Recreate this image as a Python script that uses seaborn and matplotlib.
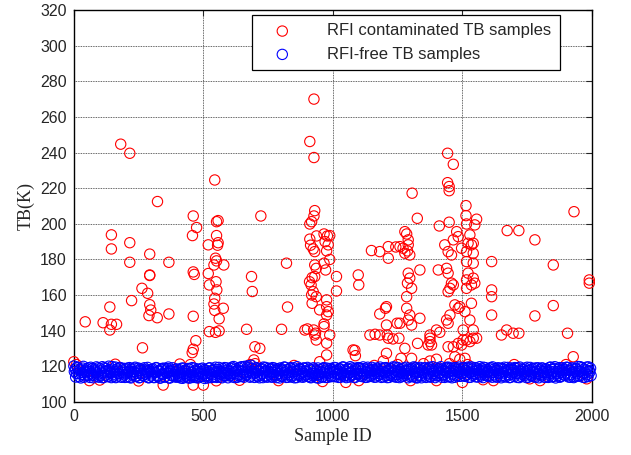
import numpy as np
import pandas as pd
import seaborn as sns
import matplotlib
matplotlib.use("Agg")
import matplotlib.pyplot as plt

# RFI contaminated samples away from the clean band (sample id, TB in K)
red_ids = [
    44, 113, 145, 165, 139, 145, 145, 181, 216, 216, 216, 223, 139, 263, 265, 290, 285, 293, 293, 293,
    293, 297, 322, 323, 367, 367, 461, 474, 458, 461, 465, 461, 471, 461, 457,
    519, 555, 557, 551, 551, 557, 544, 547, 551, 541, 579, 519, 523, 549, 552, 544, 541, 577, 544, 561,
    523, 547, 561,
    667, 686, 689, 699, 718, 695, 722, 821, 825, 802, 892,
    927, 911, 927, 930, 927, 918, 911, 911, 937, 966, 979, 988, 914, 970, 924, 930, 976, 982, 930, 936,
    972, 966, 920, 930, 910, 916, 924, 918, 936, 920, 976, 976, 982, 976, 949, 966, 966, 902, 926, 933,
    930, 936, 988, 976, 976, 949, 988,
    1014, 1014, 1078, 1085, 1087, 1098, 1100, 1149, 1181, 1214, 1214, 1207, 1203, 1181, 1248, 1207, 1163, 1210, 1232, 1207,
    1195, 1143, 1181, 1214, 1243, 1259, 1278,
    1278, 1285, 1291, 1288, 1297, 1271, 1291, 1306, 1326, 1336, 1291, 1297, 1288, 1304, 1285, 1285, 1297, 1291, 1304, 1336,
    1259, 1255, 1278, 1327, 1263, 1304,
    1375, 1375, 1375, 1368, 1381, 1375, 1400, 1413, 1407, 1439, 1445, 1411, 1443, 1443, 1449, 1449, 1449, 1439, 1452, 1445,
    1445, 1400,
    1465, 1514, 1514, 1555, 1516, 1548, 1478, 1484, 1465, 1529, 1522, 1542, 1445, 1458, 1432, 1497, 1516, 1542, 1535, 1516,
    1542, 1516, 1542, 1535, 1516, 1548, 1522, 1458, 1452, 1445, 1465, 1471, 1490, 1484, 1535, 1510, 1529, 1542, 1503, 1542,
    1529, 1555, 1516, 1465, 1484, 1497, 1503, 1471, 1510, 1490,
    1613, 1613, 1613, 1613, 1651, 1671, 1696, 1718, 1673, 1718, 1780, 1780, 1851, 1851, 1906, 1928, 1931, 1990, 1990,
]
red_tb = [
    145.0, 144.5, 143.6, 143.6, 153.3, 185.9, 193.8, 244.7, 239.6, 189.4, 178.4, 156.9, 140.4, 163.8, 130.4, 148.5, 161.0, 171.0, 171.3, 183.0,
    154.6, 151.6, 147.3, 212.5, 178.4, 149.4, 204.4, 197.9, 193.4, 173.0, 171.6, 148.1, 134.4, 129.6, 127.7,
    188.2, 188.0, 189.4, 193.4, 201.2, 201.8, 224.6, 180.7, 179.2, 176.9, 176.9, 172.1, 165.7, 167.5, 162.9, 158.2, 155.0, 152.6, 151.4, 146.7,
    139.5, 139.1, 139.9,
    140.8, 170.4, 162.0, 131.0, 130.1, 123.6, 204.4, 177.9, 153.3, 140.8, 140.4,
    270.0, 246.2, 237.2, 207.4, 204.4, 201.2, 199.9, 191.4, 193.2, 194.3, 193.2, 193.4, 188.0, 190.0, 185.9, 184.4, 184.8, 188.2, 176.9, 175.0,
    174.1, 177.9, 169.8, 170.4, 167.5, 165.7, 161.9, 160.1, 159.1, 155.4, 157.3, 153.5, 150.7, 148.8, 151.7, 143.8, 142.3, 141.0, 140.4, 138.6,
    137.6, 134.8, 137.6, 133.0, 126.4, 122.6, 180.0,
    170.4, 162.3, 129.2, 129.0, 126.0, 171.3, 165.7, 185.0, 184.4, 187.2, 180.7, 153.5, 152.6, 149.4, 144.2, 143.2, 138.0, 137.6, 135.4, 127.3,
    123.0, 137.6, 137.6, 135.8, 187.0, 187.2, 183.5,
    195.6, 194.3, 191.0, 184.8, 182.5, 186.3, 188.2, 217.2, 203.1, 174.1, 172.3, 169.5, 166.7, 163.8, 159.1, 152.6, 148.8, 146.0, 143.2, 147.0,
    144.2, 135.8, 130.1, 132.9, 124.5, 124.5,
    137.6, 135.8, 133.9, 132.0, 132.0, 123.0, 140.4, 139.1, 174.1, 175.0, 172.3, 198.8, 239.6, 223.1, 220.9, 218.6, 200.9, 146.0, 148.8, 144.2,
    131.0, 124.0,
    233.4, 210.2, 204.6, 202.6, 199.9, 199.4, 195.6, 192.8, 191.0, 193.8, 189.1, 189.1, 184.4, 182.5, 188.2, 186.3, 184.4, 183.5, 188.2, 178.8,
    177.9, 168.5, 169.5, 165.7, 163.8, 166.7, 172.3, 166.7, 163.8, 161.9, 165.7, 154.5, 153.5, 152.6, 155.4, 150.7, 146.0, 140.4, 140.4, 135.8,
    133.9, 135.8, 134.8, 131.0, 132.9, 132.0, 134.8, 125.4, 124.5, 124.0,
    178.8, 162.9, 159.1, 148.8, 137.6, 140.4, 138.6, 138.6, 196.2, 196.2, 191.0, 148.3, 176.9, 154.1, 138.6, 125.4, 206.8, 168.5, 166.7,
]

# RFI contaminated samples lying inside the clean band
red_band_ids = [0, 10, 60, 100, 160, 250, 345, 409, 450, 461, 500, 550, 640, 680, 700, 790, 850, 960, 1050, 1100,
                1160, 1250, 1300, 1350, 1400, 1450, 1500, 1520, 1580, 1620, 1700, 1760, 1800, 1900, 1980]
red_band_tb = [122.6, 121.0, 112.0, 112.3, 121.2, 111.8, 109.5, 121.3, 121.0, 109.5, 109.5, 111.9, 112.2, 121.0, 121.5,
               112.0, 120.5, 111.5, 111.0, 112.0, 120.5, 121.0, 112.0, 121.5, 112.0, 121.5, 111.0, 121.0, 112.5, 112.0,
               121.0, 113.0, 112.0, 121.0, 113.0]

# RFI-free samples, first pass (ids 0, 5, 10, ...)
blue_ids_a = np.arange(0, 2000, 5)
blue_tb_a = [
    120.2, 118.5, 116.0, 119.4, 114.2, 117.8, 115.5, 119.0, 113.9, 116.8, 118.6, 114.8, 117.2, 119.5, 115.1, 113.6, 118.1, 116.4, 114.5, 119.2,
    117.5, 115.0, 119.8, 113.8, 116.9, 118.9, 114.4, 120.1, 116.2, 113.7, 118.4, 115.6, 119.6, 114.1, 117.4, 116.0, 119.1, 113.9, 117.9, 115.3,
    118.7, 114.0, 116.6, 119.3, 113.5, 117.1, 115.4, 118.9, 114.6, 116.1, 119.0, 113.8, 117.6, 115.0, 118.3, 114.3, 116.8, 119.4, 113.6, 117.0,
    115.2, 118.5, 113.7, 116.5, 119.1, 114.3, 117.3, 113.5, 118.8, 115.8, 114.0, 117.9, 116.2, 119.6, 113.4, 116.9, 114.7, 118.2, 115.4, 113.9,
    117.6, 114.2, 116.3, 118.9, 113.3, 115.9, 117.8, 114.5, 113.6, 118.4, 115.1, 116.7, 113.8, 119.0, 114.9, 117.2, 113.5, 116.0, 118.6, 114.4,
    115.6, 113.2, 117.9, 114.6, 116.8, 119.2, 113.7, 115.3, 118.3, 114.1, 117.0, 116.1, 119.4, 113.9, 115.7, 118.7, 114.8, 116.5, 119.1, 113.6,
    117.4, 115.2, 119.5, 114.0, 116.7, 118.6, 113.8, 117.9, 115.5, 119.7, 114.4, 116.2, 120.0, 114.9, 117.3, 119.2, 113.9, 120.6, 115.8, 118.1,
    116.3, 119.3, 114.2, 117.6, 115.0, 118.8, 113.7, 116.9, 119.4, 114.6, 117.1, 115.4, 118.5, 113.9, 116.6, 119.0, 114.8, 117.8, 115.9, 113.5,
    118.2, 114.7, 116.4, 119.5, 113.8, 117.3, 115.2, 118.9, 114.0, 116.8, 119.1, 115.6, 113.7, 117.7, 114.9, 118.4, 116.1, 113.9, 119.0, 115.3,
    117.0, 114.3, 118.6, 113.6, 116.2, 119.2, 114.8, 117.5, 115.1, 113.4, 118.1, 116.6, 114.1, 119.3, 115.7, 117.9, 113.8, 116.4, 118.8, 114.5,
    116.9, 119.4, 114.2, 117.8, 115.5, 118.5, 113.9, 116.3, 119.7, 114.7, 117.2, 115.0, 118.9, 114.0, 116.7, 119.1, 115.4, 113.7, 118.0, 116.1,
    119.2, 114.6, 117.4, 115.8, 118.7, 113.8, 116.5, 119.5, 114.3, 117.7, 115.2, 118.3, 113.9, 116.9, 119.0, 114.8, 117.1, 115.6, 118.6, 114.1,
    116.4, 119.3, 113.7, 117.9, 115.1, 118.8, 114.5, 116.8, 119.6, 113.9, 117.3, 115.7, 118.2, 114.2, 116.0, 119.1, 114.9, 117.6, 113.6, 118.5,
    115.3, 118.9, 114.1, 117.0, 119.4, 113.5, 116.6, 118.4, 114.7, 117.8, 115.9, 119.2, 113.8, 116.2, 118.7, 114.4, 117.4, 119.8, 115.0, 113.7,
    117.7, 114.9, 119.0, 116.3, 113.9, 118.5, 115.4, 117.1, 119.5, 114.2, 116.8, 118.9, 113.6, 117.5, 115.2, 119.3, 114.6, 116.9, 118.2, 115.8,
    116.1, 119.4, 114.4, 117.6, 118.9, 113.8, 116.7, 119.7, 114.9, 117.3, 115.6, 119.1, 114.0, 117.9, 115.3, 118.6, 113.7, 116.4, 119.2, 114.8,
    117.2, 115.0, 119.3, 113.9, 116.8, 118.7, 114.5, 117.7, 115.8, 119.0, 113.6, 116.2, 118.4, 114.7, 117.5, 119.4, 115.3, 113.8, 118.1, 116.6,
    114.3, 118.8, 116.0, 119.2, 113.7, 117.4, 115.5, 118.3, 114.8, 116.9, 119.5, 113.9, 117.8, 115.1, 118.6, 114.2, 116.5, 119.1, 115.7, 113.6,
    117.9, 114.6, 119.0, 116.3, 113.8, 118.4, 115.2, 117.6, 119.6, 114.1, 116.8, 118.9, 113.5, 117.1, 115.9, 119.3, 114.4, 116.6, 118.2, 114.9,
    116.2, 119.4, 114.0, 117.8, 115.4, 119.1, 113.7, 116.9, 118.7, 114.5, 117.3, 119.8, 115.1, 113.9, 118.5, 116.4, 119.6, 114.3, 117.6, 118.9,
]

# RFI-free samples, second pass (ids 2, 7, 12, ...)
blue_ids_b = np.arange(2, 2000, 5)
blue_tb_b = [
    117.1, 114.0, 119.6, 115.9, 118.3, 113.5, 116.6, 120.0, 114.7, 117.7, 115.3, 119.1, 113.8, 116.2, 118.8, 114.9, 117.4, 119.7, 115.6, 113.9,
    118.6, 116.3, 113.6, 119.2, 115.1, 117.6, 114.2, 118.1, 116.7, 119.9, 114.5, 117.0, 113.7, 118.5, 115.8, 119.4, 114.0, 116.5, 118.9, 113.8,
    115.7, 119.0, 117.3, 113.9, 118.4, 115.0, 116.9, 119.5, 114.4, 117.5, 113.6, 118.6, 116.0, 114.8, 119.2, 115.5, 117.9, 113.7, 118.1, 116.3,
    118.0, 113.8, 116.7, 119.3, 114.6, 117.4, 113.4, 118.3, 115.6, 119.0, 114.1, 116.3, 118.7, 113.6, 117.5, 115.0, 119.2, 114.3, 116.8, 118.5,
    114.8, 118.2, 113.5, 116.9, 119.1, 114.0, 117.3, 115.2, 118.8, 113.4, 116.5, 119.3, 114.6, 117.7, 113.7, 118.5, 115.8, 114.2, 117.0, 119.0,
    118.1, 114.5, 116.2, 113.5, 119.0, 115.7, 117.6, 114.0, 116.9, 119.5, 113.8, 118.2, 115.3, 117.1, 113.6, 116.4, 119.3, 114.7, 117.9, 115.9,
    114.6, 118.8, 116.1, 119.9, 113.7, 117.5, 115.0, 119.1, 114.3, 117.2, 119.8, 113.9, 118.0, 115.6, 120.3, 116.6, 114.5, 118.9, 117.0, 113.8,
    119.0, 114.8, 117.3, 113.6, 118.4, 116.0, 119.6, 114.5, 117.7, 113.9, 118.9, 116.4, 114.2, 119.3, 115.4, 117.9, 113.7, 118.6, 116.2, 119.1,
    114.4, 117.8, 119.6, 115.2, 118.1, 113.9, 116.6, 119.3, 114.7, 118.0, 113.6, 117.4, 119.8, 115.5, 118.7, 114.1, 116.9, 119.1, 114.6, 117.5,
    119.4, 115.6, 113.9, 117.9, 114.7, 118.5, 116.0, 113.6, 119.1, 115.3, 117.2, 114.0, 118.8, 116.4, 113.8, 119.0, 115.9, 117.7, 114.2, 118.3,
    114.3, 117.5, 119.2, 116.0, 113.8, 118.7, 115.3, 119.5, 114.5, 117.9, 113.7, 118.4, 116.3, 119.8, 114.9, 117.1, 113.9, 118.9, 115.6, 119.3,
    116.0, 118.9, 114.3, 119.7, 115.5, 117.3, 113.9, 118.5, 116.8, 114.4, 119.4, 115.9, 117.8, 114.0, 118.3, 116.1, 119.6, 113.8, 117.2, 119.0,
    119.1, 114.8, 117.2, 113.8, 118.6, 116.3, 119.7, 114.2, 117.8, 115.4, 119.3, 113.7, 116.9, 118.7, 114.6, 117.4, 119.5, 115.8, 118.1, 114.3,
    118.2, 114.5, 119.7, 116.1, 113.8, 118.8, 115.2, 119.4, 113.6, 116.8, 119.0, 114.6, 117.9, 115.7, 119.5, 113.9, 118.3, 115.9, 117.2, 119.1,
    114.6, 118.4, 116.2, 119.8, 115.0, 117.6, 113.8, 118.9, 116.4, 119.5, 114.1, 117.9, 115.7, 119.2, 113.9, 118.1, 116.6, 119.6, 114.4, 117.3,
    119.0, 114.7, 117.9, 115.2, 119.6, 116.4, 113.9, 118.5, 115.8, 119.3, 114.1, 118.0, 116.2, 119.8, 114.5, 117.4, 119.5, 115.1, 118.2, 116.9,
    114.2, 118.6, 116.5, 119.7, 115.3, 117.8, 113.9, 119.2, 116.1, 114.5, 118.8, 117.0, 119.5, 114.0, 116.7, 118.3, 113.7, 119.1, 115.6, 118.0,
    119.3, 115.9, 113.8, 117.5, 119.6, 114.4, 118.1, 116.2, 119.0, 113.7, 117.8, 115.4, 119.4, 114.6, 116.8, 118.9, 113.9, 117.3, 119.2, 116.0,
    115.4, 119.1, 117.2, 114.0, 118.7, 116.5, 113.8, 119.4, 115.7, 118.2, 114.3, 119.8, 116.1, 114.7, 118.5, 113.9, 117.6, 119.2, 115.3, 117.9,
    119.5, 115.1, 117.7, 113.9, 119.0, 116.6, 114.3, 118.6, 115.9, 119.9, 114.6, 117.2, 119.3, 116.1, 113.8, 118.0, 115.4, 119.7, 116.8, 114.8,
]

sns.set_style("white")
plt.rcParams['font.family'] = ['Liberation Sans', 'DejaVu Sans']

fig, ax = plt.subplots(figsize=(6.31, 4.55), dpi=100)
fig.subplots_adjust(left=0.117, right=0.938, bottom=0.1165, top=0.978)

msize = 55
red_df = pd.DataFrame({'id': red_ids + red_band_ids, 'tb': red_tb + red_band_tb})
blue_df = pd.DataFrame({'id': np.concatenate([blue_ids_a, blue_ids_b]), 'tb': blue_tb_a + blue_tb_b})
blue_df = blue_df.sort_values('id')

sns.scatterplot(data=red_df, x='id', y='tb', ax=ax, marker='o', s=msize, color='red',
                facecolor='none', edgecolor='#ff0000', linewidth=0.8, clip_on=False, zorder=3,
                label='RFI contaminated TB samples')
sns.scatterplot(data=blue_df, x='id', y='tb', ax=ax, marker='o', s=msize, color='blue',
                facecolor='none', edgecolor='#0000ff', linewidth=0.8, clip_on=False, zorder=4,
                label='RFI-free TB samples')

ax.set_xlim(0, 2000)
ax.set_ylim(100, 320)
ax.set_xticks([0, 500, 1000, 1500, 2000])
ax.set_yticks(np.arange(100, 321, 20))
ax.tick_params(direction='in', top=True, right=True, length=4, width=0.8, labelsize=11.5, pad=5)
ax.grid(True, linestyle=(0, (1, 1)), color='0.2', linewidth=0.6)
ax.set_axisbelow(True)
for sp in ax.spines.values():
    sp.set_linewidth(1.0)
    sp.set_color('black')

ax.set_xlabel('Sample ID', family=['Liberation Serif'], fontsize=13, labelpad=3)
ax.set_ylabel('TB(K)', family=['Liberation Serif'], fontsize=13, labelpad=4)

leg = ax.legend(loc='upper right', bbox_to_anchor=(0.938, 0.987), borderaxespad=0,
                fontsize=12, frameon=True, fancybox=False, framealpha=1,
                edgecolor='black', handletextpad=1.4, borderpad=0.5, labelspacing=0.5,
                handlelength=2.6)
leg.get_frame().set_linewidth(0.9)

plt.savefig('out.png', dpi=100)
